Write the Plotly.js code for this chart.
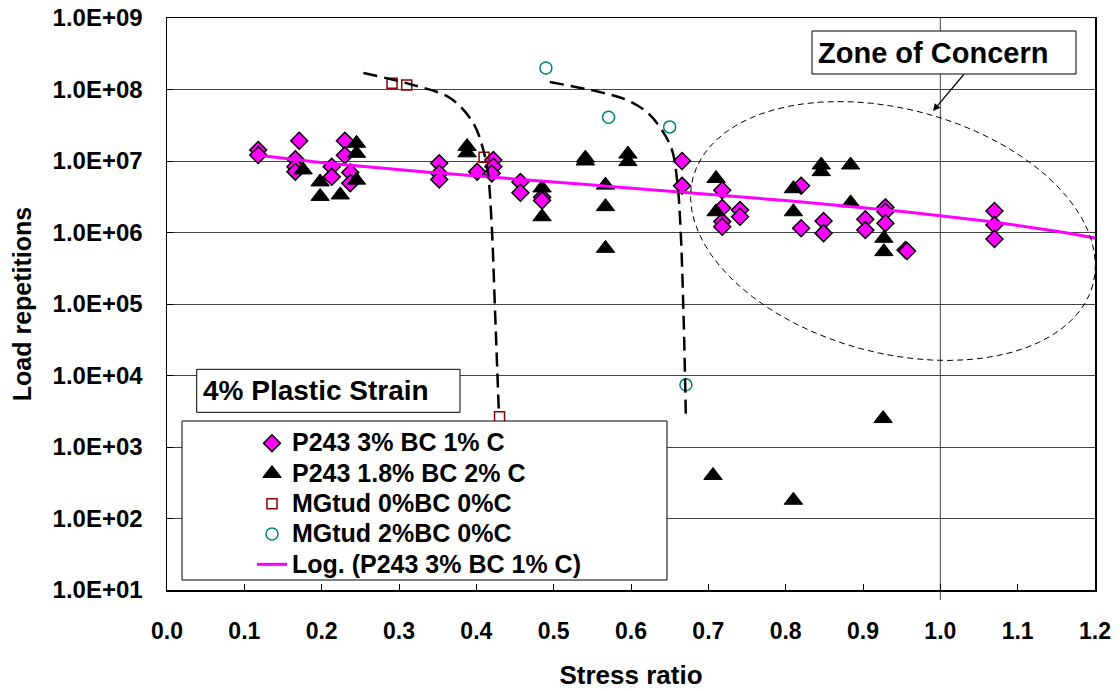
<!DOCTYPE html>
<html><head><meta charset="utf-8">
<script src="https://cdn.plot.ly/plotly-3.0.1.min.js"></script>
<style>html,body{margin:0;padding:0;background:#fff}#chart{width:1120px;height:691px}</style>
</head><body><div id="chart"></div>
<script>
// ---- data ----
const xTickVals = [0, 0.1, 0.2, 0.3, 0.4, 0.5, 0.6, 0.7, 0.8, 0.9, 1.0, 1.1, 1.2];
const xTickText = ["0.0","0.1","0.2","0.3","0.4","0.5","0.6","0.7","0.8","0.9","1.0","1.1","1.2"];
const yTickVals = [1e1, 1e2, 1e3, 1e4, 1e5, 1e6, 1e7, 1e8, 1e9];
const yTickText = ["1.0E+01","1.0E+02","1.0E+03","1.0E+04","1.0E+05","1.0E+06","1.0E+07","1.0E+08","1.0E+09"];

const seriesNames = ["P243 3% BC 1% C", "P243 1.8% BC 2% C", "MGtud 0%BC 0%C", "MGtud 2%BC 0%C", "Log. (P243 3% BC 1% C)"];

// P243 3% BC 1% C (diamonds)
const p243aX = [0.118,0.118,0.171,0.166,0.166,0.166,0.213,0.213,0.230,0.230,0.237,0.237,
  0.352,0.352,0.352,0.401,0.422,0.422,0.420,0.457,0.457,0.485,0.485,
  0.666,0.666,0.718,0.718,0.718,0.718,0.741,0.741,0.820,0.820,0.849,0.849,
  0.903,0.903,0.929,0.929,0.929,0.955,0.957,1.070,1.070,1.070];
const p243aY = [1.43e7,1.21e7,1.92e7,1.06e7,8.3e6,7.1e6,8.3e6,6.0e6,1.92e7,1.2e7,6.9e6,4.9e6,
  9.3e6,6.7e6,5.5e6,7.1e6,1.03e7,8.3e6,6.7e6,5.1e6,3.6e6,3.1e6,2.8e6,
  1.0e7,4.5e6,3.9e6,2.2e6,1.42e6,1.2e6,2.07e6,1.66e6,4.5e6,1.15e6,1.45e6,9.8e5,
  1.53e6,1.08e6,2.25e6,1.95e6,1.35e6,5.7e5,5.5e5,2.0e6,1.27e6,8.1e5];

// P243 1.8% BC 2% C (triangles)
const p243bX = [0.176,0.198,0.198,0.224,0.245,0.245,0.245,0.388,0.388,0.485,0.485,0.541,0.541,
  0.567,0.567,0.567,0.596,0.596,0.706,0.710,0.710,0.810,0.810,0.810,0.846,0.846,0.884,0.884,0.926,0.927,0.927];
const p243bY = [7.5e6,5.1e6,3.2e6,3.35e6,1.77e7,1.28e7,5.4e6,1.6e7,1.3e7,4.2e6,1.66e6,1.1e7,1.0e7,
  4.6e6,2.3e6,6.0e5,1.25e7,9.8e6,4.0e2,5.7e6,1.95e6,1.8e2,4.1e6,1.95e6,8.8e6,7.1e6,8.8e6,2.6e6,2.5e3,8.3e5,5.4e5];

// MGtud 0%BC 0%C (open squares)
const mg0X = [0.291, 0.310, 0.410, 0.430];
const mg0Y = [1.22e8, 1.16e8, 1.13e7, 2.65e3];

// MGtud 2%BC 0%C (open circles)
const mg2X = [0.490, 0.571, 0.650, 0.671];
const mg2Y = [2.0e8, 4.1e7, 3.0e7, 7.4e3];

// hand-drawn dashed curves
const curve1X = [0.254, 0.314, 0.366, 0.396, 0.409, 0.415, 0.420, 0.424, 0.429];
const curve1Y = [1.70e8, 1.19e8, 7.6e7, 3.4e7, 1.43e7, 6.8e6, 1.19e6, 9.1e4, 3.3e3];
const curve2X = [0.495, 0.560, 0.595, 0.621, 0.640, 0.653, 0.660, 0.664, 0.668, 0.671];
const curve2Y = [1.27e8, 9.2e7, 7.1e7, 4.8e7, 2.7e7, 1.43e7, 4.9e6, 1.19e6, 6.6e4, 2.4e3];

// logarithmic trendline shown in the chart, y = trendA * ln(x) + trendB (coefficients)
const trendA = -4.835e6;
const trendB = 1.72e6;
const trendStartX = 0.118;
const trendEndX = 1.2;

const trendX = [], trendY = [];
const steps = 60;
for (let i = 0; i <= steps; i++) {
  const x = trendStartX + (trendEndX - trendStartX) * i / steps;
  trendX.push(x);
  trendY.push(trendA * Math.log(x) + trendB);
}

// ---- plot-area geometry helpers (pixels -> paper) ----
const PL = 167, PR = 1095, PT = 18, PB = 590;
const px = v => (v - PL) / (PR - PL);
const py = v => (PB - v) / (PB - PT);

// ellipse "zone of concern" path
function ellipsePath(cx, cy, a, b, deg) {
  const th = deg * Math.PI / 180;
  let d = '';
  for (let i = 0; i <= 72; i++) {
    const t = 2 * Math.PI * i / 72;
    const X = cx + a * Math.cos(t) * Math.cos(th) - b * Math.sin(t) * Math.sin(th);
    const Y = cy + a * Math.cos(t) * Math.sin(th) + b * Math.sin(t) * Math.cos(th);
    d += (i === 0 ? 'M' : 'L') + px(X).toFixed(5) + ',' + py(Y).toFixed(5);
  }
  return d + 'Z';
}

const boldFont = 'Liberation Sans, Arial, sans-serif';
const legendName = s => '<span style="font-size:25px">' + s + '</span>';

const traces = [
  {x: p243aX, y: p243aY, name: legendName(seriesNames[0]), type: 'scatter', mode: 'markers',
   marker: {symbol: 'diamond', size: 13, color: '#FF00FF', line: {color: '#000', width: 1.5}}},
  {x: p243bX, y: p243bY, name: legendName(seriesNames[1]), type: 'scatter', mode: 'markers',
   marker: {symbol: 'triangle-up', size: 16, color: '#000', line: {color: '#000', width: 1}}},
  {x: mg0X, y: mg0Y, name: legendName(seriesNames[2]), type: 'scatter', mode: 'markers',
   marker: {symbol: 'square-open', size: 10, color: '#8B0000', line: {color: '#8B0000', width: 1.5}}},
  {x: mg2X, y: mg2Y, name: legendName(seriesNames[3]), type: 'scatter', mode: 'markers',
   marker: {symbol: 'circle-open', size: 12, color: '#008080', line: {color: '#008080', width: 1.5}}},
  {x: trendX, y: trendY, name: legendName(seriesNames[4]), type: 'scatter', mode: 'lines',
   line: {color: '#FF00FF', width: 3}},
  {x: curve1X, y: curve1Y, type: 'scatter', mode: 'lines', showlegend: false,
   line: {color: '#000', width: 2.5, dash: '14px,7px', shape: 'spline', smoothing: 1}},
  {x: curve2X, y: curve2Y, type: 'scatter', mode: 'lines', showlegend: false,
   line: {color: '#000', width: 2.5, dash: '14px,7px', shape: 'spline', smoothing: 1}}
];

const layout = {
  width: 1120, height: 691,
  margin: {l: PL, r: 1120 - PR, t: PT, b: 691 - PB, pad: 0},
  paper_bgcolor: '#fff', plot_bgcolor: '#fff',
  showlegend: true,
  legend: {x: px(252), xanchor: 'left', y: py(423), yanchor: 'top',
    bgcolor: 'rgba(0,0,0,0)', borderwidth: 0,
    font: {family: boldFont, size: 21, color: '#000', weight: 'bold'}, traceorder: 'normal'},
  xaxis: {type: 'linear', range: [0, 1.2], tickmode: 'array', tickvals: xTickVals, ticktext: xTickText,
    ticks: 'inside', ticklen: 6, tickcolor: '#000', tickwidth: 1,
    showgrid: false, zeroline: false, showline: true, mirror: true, linecolor: '#000', linewidth: 1.5,
    ticklabelstandoff: 20,
    tickfont: {family: boldFont, size: 23, color: '#000', weight: 'bold'},
    title: {text: 'Stress ratio', standoff: 22, font: {family: boldFont, size: 26, color: '#000', weight: 'bold'}}},
  yaxis: {type: 'log', range: [1, 9], tickmode: 'array', tickvals: yTickVals, ticktext: yTickText,
    ticks: 'inside', ticklen: 6, tickcolor: '#000', tickwidth: 1,
    showgrid: true, gridcolor: '#444', gridwidth: 1, zeroline: false,
    showline: true, mirror: true, linecolor: '#000', linewidth: 1.5,
    ticklabelstandoff: 18,
    tickfont: {family: boldFont, size: 24, color: '#000', weight: 'bold'},
    title: {text: 'Load repetitions', standoff: 14, font: {family: boldFont, size: 25, color: '#000', weight: 'bold'}}},
  shapes: [
    {type: 'line', xref: 'x', yref: 'paper', x0: 1.0, x1: 1.0, y0: py(600), y1: 1, layer: 'below',
     line: {color: '#444', width: 1}},
    {type: 'path', xref: 'paper', yref: 'paper', path: ellipsePath(893, 231, 207, 122, 15), layer: 'above',
     line: {color: '#000', width: 1, dash: '6px,4px'}},
    {type: 'rect', xref: 'paper', yref: 'paper', x0: px(182), x1: px(667), y0: py(580), y1: py(421), layer: 'above',
     fillcolor: '#fff', line: {color: '#000', width: 1}},
    {type: 'rect', xref: 'paper', yref: 'paper', x0: px(196.7), x1: px(460), y0: py(412.3), y1: py(369.3), layer: 'above',
     fillcolor: '#fff', line: {color: '#000', width: 1}},
    {type: 'rect', xref: 'paper', yref: 'paper', x0: px(812), x1: px(1076), y0: py(74), y1: py(31), layer: 'above',
     fillcolor: '#fff', line: {color: '#000', width: 1}}
  ],
  annotations: [
    {xref: 'paper', yref: 'paper', x: px(201), y: py(390.5), xanchor: 'left', yanchor: 'middle', showarrow: false,
     text: '4% Plastic Strain', font: {family: boldFont, size: 28, color: '#000', weight: 'bold'}},
    {xref: 'paper', yref: 'paper', x: px(816), y: py(52.5), xanchor: 'left', yanchor: 'middle', showarrow: false,
     text: 'Zone of Concern', font: {family: boldFont, size: 29, color: '#000', weight: 'bold'}},
    {xref: 'paper', yref: 'paper', x: px(933), y: py(111), text: '', showarrow: true,
     axref: 'pixel', ayref: 'pixel', ax: 32, ay: -38, arrowhead: 2, arrowsize: 1.2, arrowwidth: 1.2,
     arrowcolor: '#000', standoff: 0, startstandoff: 0}
  ],
  hovermode: false
};

Plotly.newPlot('chart', traces, layout, {staticPlot: true, displayModeBar: false});
</script>
</body></html>
